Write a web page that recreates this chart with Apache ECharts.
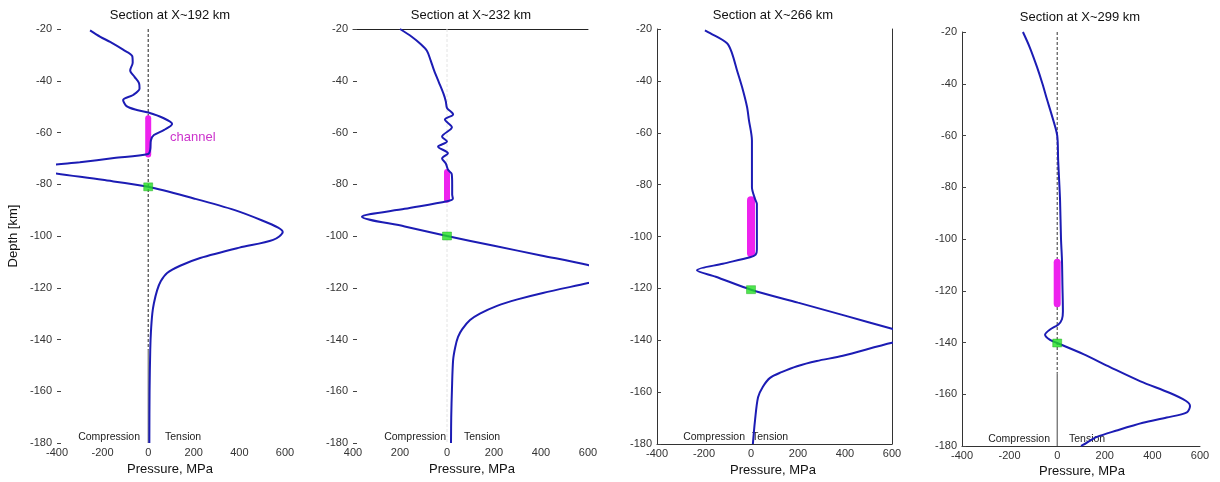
<!DOCTYPE html>
<html>
<head>
<meta charset="utf-8">
<script src="https://cdn.jsdelivr.net/npm/echarts@6/dist/echarts.min.js"></script>
<style>
html,body{margin:0;padding:0;background:#fff;}
#chart{width:1220px;height:482px;}
</style>
</head>
<body>
<div id="chart"></div>
<script>
// ---- axis ranges / ticks ----
const depthMin = -180, depthMax = -20, depthStep = 20;
const pressureMin = -400, pressureMax = 600, pressureStep = 200;

// ---- section titles ----
const sectionTitles = ['Section at X~192 km', 'Section at X~232 km', 'Section at X~266 km', 'Section at X~299 km'];

// ---- pressure profiles [pressure MPa, depth km] ----
const section192 = [[-255,-20.5],[-210,-23],[-167,-25],[-110,-28],[-70,-30.5],[-68,-33],[-79,-36],[-60,-38.5],[-40,-41],[-38,-43],[-66,-45.5],[-110,-47.4],[-95,-49.8],[-50,-51.3],[0,-52.3],[66,-54.4],[105,-56.7],[70,-59],[25,-61],[12,-63],[9,-66.5],[0,-68.3],[-150,-69.9],[-300,-71.5],[-450,-72.9],[-500,-74.2],[-430,-75.5],[-200,-78.3],[0,-81],[200,-85.5],[380,-90],[500,-94],[570,-96.8],[590,-98.5],[548,-101.5],[400,-104.5],[228,-108.5],[140,-111.5],[83,-114.3],[55,-117.5],[39,-121],[25,-126],[18,-130],[12,-137],[9,-144],[6,-160],[5,-180]];
const section232 = [[-200,-20],[-150,-23],[-110,-26],[-85,-28.5],[-70,-32],[-55,-36],[-35,-40.5],[-15,-45],[-5,-48],[0,-50.5],[26,-53],[-9,-55],[21,-58],[-21,-61.6],[0,-63.5],[-38,-65.5],[4,-68],[-21,-70],[-5,-72],[5,-74.5],[20,-76],[22,-80],[22,-84],[25,-85.5],[0,-86.6],[-180,-89.5],[-362,-92.6],[-180,-96.3],[0,-100],[200,-103.8],[400,-107.5],[600,-111.2],[720,-114.2],[690,-116.3],[600,-118.2],[408,-122],[300,-124.5],[213,-127],[140,-130],[98,-132.5],[65,-136],[47,-139],[35,-143],[26,-148],[21,-159.5],[18,-170],[17,-180]];
const section266 = [[-196,-20.5],[-174,-21.6],[-102,-25.5],[-81,-29.3],[-60,-35.8],[-38,-42.4],[-17,-50],[-9,-55],[4,-63],[4,-72],[4,-81],[17,-85.5],[25,-87.5],[25,-95],[25,-105],[20,-107],[-4,-108],[-120,-110.5],[-230,-113],[-150,-115.5],[0,-120.5],[200,-125.5],[400,-130.5],[600,-135.6],[720,-138.5],[680,-140],[600,-141],[391,-146],[280,-148],[196,-150],[130,-152.3],[81,-154.5],[50,-158],[30,-162],[17,-171],[8,-180]];
const section299 = [[-144,-20],[-115,-26],[-85,-33.5],[-62,-40],[-43,-46],[-20,-53],[0,-60],[4,-69.5],[8,-77],[12,-85],[16,-100],[20,-108],[22,-118],[24,-128],[20,-131],[5,-133],[-30,-135],[-51,-137],[-30,-139],[0,-140.2],[110,-144.5],[222,-149.5],[350,-155],[474,-159.5],[540,-162.5],[558,-164.5],[545,-167],[460,-169],[360,-171],[250,-174],[167,-176.5],[108,-179.6],[100,-180]];
const profiles = [section192, section232, section266, section299];

// ---- channel extents [pressure, depth] ----
const channel192 = [[0,-54.5],[0,-68.5]];
const channel232 = [[0,-75.3],[0,-86]];
const channel266 = [[0,-86],[0,-106.5]];
const channel299 = [[0,-109],[0,-125]];
const channels = [channel192, channel232, channel266, channel299];

// ---- neutral (zero pressure) points ----
const neutral192 = [[0,-81]];
const neutral232 = [[0,-100]];
const neutral266 = [[0,-120.5]];
const neutral299 = [[0,-140.2]];
const neutrals = [neutral192, neutral232, neutral266, neutral299];

// ---- zero-pressure reference lines ----
const zeroDashed192 = [[0,-20],[0,-144]];
const zeroSolid192 = [[0,-144],[0,-180]];
const zeroDashed232 = [[0,-20],[0,-180]];
const zeroDashed299 = [[0,-20],[0,-152]];
const zeroSolid299 = [[0,-152],[0,-180]];

const FONT = '"Liberation Sans", Arial, Helvetica, sans-serif';
const grids = [
  {left:57, top:29, width:228, height:414},
  {left:353, top:29, width:235, height:414},
  {left:657, top:29, width:235, height:415},
  {left:962, top:32, width:238, height:414}
];

const xAxes = [], yAxes = [], series = [];
for (let i = 0; i < 4; i++) {
  xAxes.push({
    type:'value', gridIndex:i, min:pressureMin, max:pressureMax, interval:pressureStep,
    axisLine:{show:i>=2, onZero:false, lineStyle:{color:'#333', width:1}},
    axisTick:{show:false}, splitLine:{show:false},
    axisLabel:{margin:4, fontSize:11, color:'#333', fontFamily:FONT,
      formatter: i === 1 ? (v => String(Math.abs(v))) : (v => String(v))}
  });
  yAxes.push({
    type:'value', gridIndex:i, min:depthMin, max:depthMax, interval:depthStep,
    axisLine:{show:i>=2, onZero:false, lineStyle:{color:'#333', width:1}},
    axisTick:{show:true, inside:true, length:4, lineStyle:{color:'#444'}},
    splitLine:{show:false},
    axisLabel:{margin:5, fontSize:11, color:'#333', fontFamily:FONT}
  });
}
// top border of panel 2
xAxes.push({type:'value', gridIndex:1, position:'top', min:pressureMin, max:pressureMax, interval:pressureStep,
  axisLine:{show:true, onZero:false, lineStyle:{color:'#222', width:1}}, axisTick:{show:false}, axisLabel:{show:false}, splitLine:{show:false}});
// right border of panel 3
yAxes.push({type:'value', gridIndex:2, position:'right', min:depthMin, max:depthMax, interval:depthStep,
  axisLine:{show:true, onZero:false, lineStyle:{color:'#333', width:1}}, axisTick:{show:false}, axisLabel:{show:false}, splitLine:{show:false}});

function refLine(i, data, dashed, color) {
  series.push({type:'line', xAxisIndex:i, yAxisIndex:i, data:data, showSymbol:false, silent:true, z:1,
    lineStyle:{color:color, width:1, type: dashed ? [3,2] : 'solid'}});
}
refLine(0, zeroDashed192, true, '#222');
refLine(0, zeroSolid192, false, '#555');
refLine(1, zeroDashed232, true, '#e4e4e4');
refLine(3, zeroDashed299, true, '#333');
refLine(3, zeroSolid299, false, '#444');

const channelWidths = [6, 6, 8, 7];
for (let i = 0; i < 4; i++) {
  series.push({type:'line', xAxisIndex:i, yAxisIndex:i, data:channels[i], showSymbol:false, z:2,
    lineStyle:{color:'#ee22ee', width:channelWidths[i], cap:'round'}});
  series.push({type:'line', xAxisIndex:i, yAxisIndex:i, data:profiles[i], showSymbol:false, smooth:0.3, clip:true, z:3,
    lineStyle:{color:'#1c1cb4', width:2}});
  series.push({type:'scatter', xAxisIndex:i, yAxisIndex:i, data:neutrals[i], symbol:'rect', symbolSize:[9,8], z:4,
    itemStyle:{color:'#22e022', borderColor:'#16a016', borderWidth:0.5}});
}

const txt = (text, x, y, opts) => Object.assign({type:'text', x:x, y:y, silent:true,
  style:Object.assign({text:text, font:'13px ' + FONT, fill:'#111', textAlign:'center', textVerticalAlign:'middle'}, opts || {})});

const graphics = [
  txt(sectionTitles[0], 170, 15), txt(sectionTitles[1], 471, 15), txt(sectionTitles[2], 773, 15), txt(sectionTitles[3], 1080, 17),
  txt('Pressure, MPa', 170, 469), txt('Pressure, MPa', 472, 469), txt('Pressure, MPa', 773, 470), txt('Pressure, MPa', 1082, 471),
  Object.assign(txt('Depth [km]', 13, 236), {rotation: Math.PI / 2}),
  txt('channel', 170, 137, {textAlign:'left', fill:'#cc33cc'}),
  txt('Compression', 140, 437, {textAlign:'right', font:'10.5px ' + FONT, fill:'#222'}),
  txt('Tension', 165, 437, {textAlign:'left', font:'10.5px ' + FONT, fill:'#222'}),
  txt('Compression', 446, 437, {textAlign:'right', font:'10.5px ' + FONT, fill:'#222'}),
  txt('Tension', 464, 437, {textAlign:'left', font:'10.5px ' + FONT, fill:'#222'}),
  txt('Compression', 745, 437, {textAlign:'right', font:'10.5px ' + FONT, fill:'#222'}),
  txt('Tension', 752, 437, {textAlign:'left', font:'10.5px ' + FONT, fill:'#222'}),
  txt('Compression', 1050, 439, {textAlign:'right', font:'10.5px ' + FONT, fill:'#222'}),
  txt('Tension', 1069, 439, {textAlign:'left', font:'10.5px ' + FONT, fill:'#222'})
];

const chart = echarts.init(document.getElementById('chart'), null, {renderer:'canvas'});
chart.setOption({
  animation:false,
  backgroundColor:'#fff',
  grid:grids,
  xAxis:xAxes,
  yAxis:yAxes,
  series:series,
  graphic:graphics
});
</script>
</body>
</html>
